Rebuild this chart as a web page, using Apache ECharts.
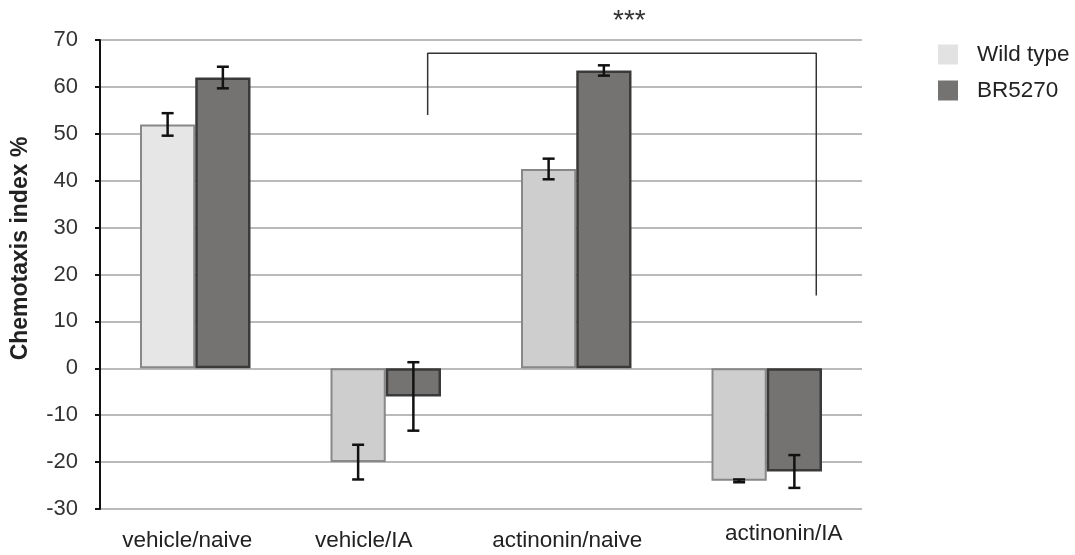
<html>
<head>
<meta charset="utf-8">
<script type="text/javascript" src="https://cdn.jsdelivr.net/npm/echarts@6/dist/echarts.min.js"></script>
<style>
  body { margin: 0; background: #fff; }
  #container { width: 1075px; height: 555px; }
</style>
</head>
<body>
<div id="container"></div>
<script type="text/javascript">
// categories and values
var categories = ['vehicle/naive', 'vehicle/IA', 'actinonin/naive', 'actinonin/IA'];
var wildType = [52, -20, 42.5, -24];
var wildErr = [2.4, 3.7, 2.2, 0.3];
var br5270 = [62, -6, 63.5, -22];
var brErr = [2.3, 7.3, 1.1, 3.5];
// significance bracket, in (category position, %) units
var bracket = [[1.72, 54], [1.72, 67.2], [3.76, 67.2], [3.76, 15.5]];

// small nudges of the category labels (dx, dy in px), as in the original
var labelShift = [[-8, 7], [-22, 7], [-9, 7], [17, 0]];

var font = 'Liberation Sans, Arial, sans-serif';

function errorSeries(name, values, errs, side) {
    return {
        type: 'custom',
        name: name + ' err',
        xAxisIndex: 0,
        yAxisIndex: 0,
        z: 10,
        silent: true,
        data: values.map(function (v, i) { return [i, v, errs[i]]; }),
        renderItem: function (params, api) {
            var i = api.value(0), v = api.value(1), e = api.value(2);
            var band = api.size([1, 0])[0];
            var x = api.coord([i, v])[0] + side * band * 0.145;
            var yHi = api.coord([i, v + e])[1];
            var yLo = api.coord([i, v - e])[1];
            var cap = 6;
            var st = { stroke: '#111', lineWidth: 2.5 };
            return {
                type: 'group',
                children: [
                    { type: 'line', shape: { x1: x, y1: yHi, x2: x, y2: yLo }, style: st },
                    { type: 'line', shape: { x1: x - cap, y1: yHi, x2: x + cap, y2: yHi }, style: st },
                    { type: 'line', shape: { x1: x - cap, y1: yLo, x2: x + cap, y2: yLo }, style: st }
                ]
            };
        }
    };
}

var myChart = echarts.init(document.getElementById('container'));

var option = {
    backgroundColor: '#fff',
    animation: false,
    title: {
        text: '***',
        left: 608,
        top: 2,
        textStyle: { fontFamily: font, fontSize: 28, fontWeight: 'normal', color: '#333' }
    },
    legend: {
        orient: 'vertical',
        left: 933,
        top: 38,
        itemWidth: 20,
        itemHeight: 20,
        itemGap: 13,
        icon: 'rect',
        textStyle: { fontFamily: font, fontSize: 22.5, color: '#222', padding: [0, 0, 0, 14] },
        data: [
            { name: 'Wild type', itemStyle: { color: '#e2e2e2', borderWidth: 0 } },
            { name: 'BR5270', itemStyle: { color: '#757372', borderWidth: 0 } }
        ]
    },
    grid: { left: 100, right: 213, top: 40, bottom: 46 },
    xAxis: [{
        type: 'category',
        data: categories.map(function (c, i) {
            var dx = labelShift[i][0], dy = labelShift[i][1];
            return {
                value: c,
                textStyle: {
                    padding: [dy, dx < 0 ? -2 * dx : 0, 0, dx > 0 ? 2 * dx : 0]
                }
            };
        }),
        axisLine: { show: false },
        axisTick: { show: false },
        axisLabel: { interval: 0, hideOverlap: false, fontFamily: font, fontSize: 22.5, color: '#222', margin: 13 }
    }, {
        type: 'value',
        min: 0,
        max: 4,
        show: false
    }],
    yAxis: {
        type: 'value',
        min: -30,
        max: 70,
        interval: 10,
        name: 'Chemotaxis index %',
        nameLocation: 'middle',
        nameGap: 68,
        nameTextStyle: { fontFamily: font, fontSize: 23, fontWeight: 'bold', color: '#222', padding: [0, 0, 0, 52] },
        axisLine: { show: true, lineStyle: { color: '#111', width: 2 } },
        axisTick: { show: true, inside: false, length: 5, lineStyle: { color: '#111', width: 2 } },
        axisLabel: { fontFamily: font, fontSize: 22, color: '#333', margin: 22 },
        splitLine: { lineStyle: { color: '#a3a3a3', width: 1.5 } }
    },
    series: [{
        type: 'bar',
        name: 'Wild type',
        barGap: '0%',
        barCategoryGap: '42%',
        itemStyle: { color: '#cecece', borderColor: '#888', borderWidth: 2 },
        data: wildType.map(function (v, i) {
            return i === 0 ? { value: v, itemStyle: { color: '#e6e6e6' } } : v;
        })
    }, {
        type: 'bar',
        name: 'BR5270',
        itemStyle: { color: '#757372', borderColor: '#3a3a3a', borderWidth: 2.5 },
        data: br5270
    },
    errorSeries('Wild type', wildType, wildErr, -1),
    errorSeries('BR5270', br5270, brErr, 1),
    {
        type: 'line',
        name: 'bracket',
        xAxisIndex: 1,
        yAxisIndex: 0,
        symbol: 'none',
        silent: true,
        lineStyle: { color: '#333', width: 1.5 },
        data: bracket
    }]
};

myChart.setOption(option);
</script>
</body>
</html>
